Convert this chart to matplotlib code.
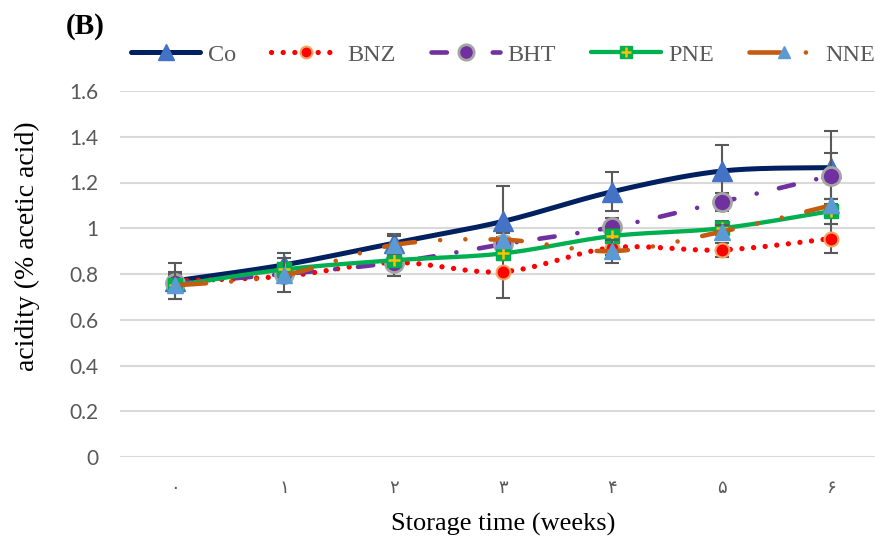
import numpy as np
import matplotlib
matplotlib.use("Agg")
import matplotlib.pyplot as plt
from matplotlib.lines import Line2D
from matplotlib.legend_handler import HandlerTuple

# ---------------- data ----------------
weeks = ["۰", "۱", "۲", "۳", "۴", "۵", "۶"]
series_names = ["Co", "BNZ", "BHT", "PNE", "NNE"]
co = [0.77, 0.84, 0.935, 1.03, 1.16, 1.25, 1.265]
bnz = [0.77, 0.79, 0.85, 0.81, 0.915, 0.905, 0.955]
bht = [0.76, 0.80, 0.85, 0.93, 1.005, 1.115, 1.23]
pne = [0.75, 0.82, 0.86, 0.89, 0.966, 1.0, 1.075]
nne = [0.75, 0.795, 0.927, 0.95, 0.90, 0.985, 1.10]
co_err = [0.08, 0.05, 0.04, 0.155, 0.085, 0.115, 0.16]
bnz_err = [0.03, 0.03, 0.06, 0.115, 0.03, 0.03, 0.065]
bht_err = [0.03, 0.03, 0.03, 0.03, 0.04, 0.04, 0.10]
pne_err = [0.02, 0.03, 0.03, 0.03, 0.03, 0.03, 0.055]
nne_err = [0.06, 0.075, 0.04, 0.03, 0.05, 0.03, 0.03]
yticks = [0, 0.2, 0.4, 0.6, 0.8, 1.0, 1.2, 1.4, 1.6]
ytick_labels = ["0", "0.2", "0.4", "0.6", "0.8", "1", "1.2", "1.4", "1.6"]


def smooth(x, y, n=30):
    """Excel-like smoothing (Catmull-Rom / cubic Bezier)."""
    x = np.asarray(x, float)
    y = np.asarray(y, float)
    P = np.column_stack([x, y])
    out = []
    m = len(P)
    for i in range(m - 1):
        p0 = P[i - 1] if i > 0 else P[i]
        p1 = P[i]
        p2 = P[i + 1]
        p3 = P[i + 2] if i + 2 < m else P[i + 1]
        c1 = p1 + (p2 - p0) / 6.0
        c2 = p2 - (p3 - p1) / 6.0
        t = np.linspace(0, 1, n)[:, None]
        seg = ((1 - t) ** 3) * p1 + 3 * ((1 - t) ** 2) * t * c1 + 3 * (1 - t) * t ** 2 * c2 + t ** 3 * p2
        out.append(seg if i == 0 else seg[1:])
    s = np.vstack(out)
    return s[:, 0], s[:, 1]


serif = ["Liberation Serif", "DejaVu Serif"]
fig = plt.figure(figsize=(8.75, 5.38), dpi=100)
ax = fig.add_axes([120.3 / 875, 81 / 538, 765.4 / 875, 366 / 538])

x = np.arange(len(weeks))
err_kw = dict(ecolor="#595959", elinewidth=1.5, capsize=4.7, capthick=1.5, linestyle="none")

styles = {
    "Co": dict(color="#002060", lw=3.6, ls="-", marker="^", mfc="#4472C4", mec="#4472C4", ms=14, mew=1),
    "BNZ": dict(color="#FF0000", lw=3.8, ls=(0, (0.01, 2.2)), marker="o", mfc="#FF0000", mec="#F4A460", ms=10, mew=1.5),
    "BHT": dict(color="#7030A0", lw=3.3, ls=(0, (3.35, 5, 0.01, 5)), marker="o", mfc="#7030A0", mec="#A5A5A5", ms=13, mew=2),
    "PNE": dict(color="#00B050", lw=3.1, ls="-", marker="s", mfc="#00B050", mec="#00B050", ms=10, mew=1),
    "NNE": dict(color="#C55A11", lw=3.3, ls=(0, (6.8, 5.5, 0.01, 5.5, 0.01, 5.5)), marker="^", mfc="#5B9BD5", mec="#5B9BD5", ms=11, mew=1),
}
data = {"Co": (co, co_err), "BNZ": (bnz, bnz_err), "BHT": (bht, bht_err),
        "PNE": (pne, pne_err), "NNE": (nne, nne_err)}

handles = []
z = 3
for name in series_names:
    vals, errs = data[name]
    st = styles[name]
    sx, sy = smooth(x, vals)
    ax.plot(sx, sy, color=st["color"], lw=st["lw"], ls=st["ls"],
            dash_capstyle="round", solid_capstyle="round", zorder=z)
    ax.errorbar(x, vals, yerr=errs, zorder=z + 0.1, **err_kw)
    ax.plot(x, vals, ls="none", marker=st["marker"], ms=st["ms"], mfc=st["mfc"],
            mec=st["mec"], mew=st["mew"], zorder=z + 0.2)
    h = Line2D([], [], color=st["color"], lw=st["lw"], ls=st["ls"], dash_capstyle="round",
               solid_capstyle="round", marker=st["marker"], ms=st["ms"] * 0.85, mfc=st["mfc"],
               mec=st["mec"], mew=st["mew"])
    if name == "PNE":
        ax.plot(x, vals, ls="none", marker="+", ms=8, mec="#FFC000", mew=1.8, zorder=z + 0.3)
        hp = Line2D([], [], ls="none", marker="+", ms=7, mec="#FFC000", mew=1.8)
        h = (h, hp)
    handles.append(h)
    z += 1

ax.set_xlim(-0.5, len(weeks) - 0.5)
ax.set_ylim(0, 1.6)
ax.set_yticks(yticks)
ax.set_yticklabels(ytick_labels, family=["Lato", "DejaVu Sans"], fontsize=15, color="#595959")
ax.set_xticks(x)
ax.set_xticklabels(weeks, family=["DejaVu Sans"], fontsize=13, color="#595959")
ax.tick_params(axis="y", length=0, pad=16)
ax.tick_params(axis="x", length=0, pad=16)
for sp in ax.spines.values():
    sp.set_visible(False)
ax.yaxis.grid(True, color="#D9D9D9", lw=1.5)
ax.set_axisbelow(True)

ax.set_xlabel("Storage time (weeks)", family=serif, fontsize=19, color="black", labelpad=11)
fig.text(27 / 875, 1 - 246 / 538, "acidity (% acetic acid)", rotation=90, family=serif,
         fontsize=20, color="black", ha="center", va="center")
fig.text(66 / 875, 1 - 27 / 538, "(B)", family=serif, fontsize=21, fontweight="bold",
         ha="left", va="center")

leg = fig.legend(handles, series_names, loc="center left", bbox_to_anchor=(131 / 875, 1 - 55 / 538),
                 ncol=5, frameon=False, prop={"family": serif, "size": 17.5},
                 handlelength=2.85, handletextpad=0.3, columnspacing=1.45, borderaxespad=0,
                 borderpad=0, numpoints=1, handler_map={tuple: HandlerTuple(ndivide=1)})
for t in leg.get_texts():
    t.set_color("#595959")

fig.savefig("out.png", dpi=100)
